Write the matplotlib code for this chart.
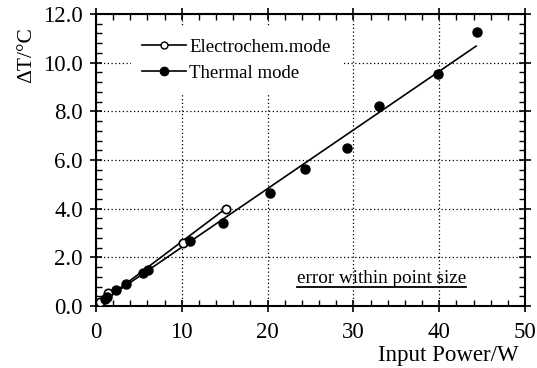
import matplotlib
matplotlib.use('Agg')
import matplotlib.pyplot as plt
from matplotlib.ticker import MultipleLocator, FormatStrFormatter
from matplotlib.lines import Line2D

# Dados
elec_x = [0.47, 1.44, 10.1, 15.1]
elec_y = [0.18, 0.52, 2.58, 3.99]

therm_x = [1.0, 1.24, 2.3, 3.46, 5.5, 6.1, 11.0, 14.77, 20.3, 24.4, 29.3, 33.0, 39.8, 44.4]
therm_y = [0.30, 0.36, 0.66, 0.89, 1.34, 1.48, 2.69, 3.42, 4.66, 5.63, 6.51, 8.22, 9.54, 11.27]

# retas ajustadas (extremos)
elec_fit_x = [0.4, 15.1]
elec_fit_y = [0.10, 4.00]
therm_fit_x = [0.4, 44.3]
therm_fit_y = [0.10, 10.68]

plt.rcParams['font.family'] = ['Liberation Serif', 'DejaVu Serif']

fig = plt.figure(figsize=(5.37, 3.68), dpi=100)
ax = fig.add_axes([0.1788, 0.1685, 0.7989, 0.7935])

ax.plot(elec_fit_x, elec_fit_y, color='black', lw=1.2, zorder=3)
ax.plot(therm_fit_x, therm_fit_y, color='black', lw=1.2, zorder=3)
ax.plot(elec_x, elec_y, 'o', mfc='white', mec='black', mew=1.2, ms=6, zorder=4)
ax.plot(therm_x, therm_y, 'o', color='black', ms=6.5, zorder=4)

ax.set_xlim(0, 50)
ax.set_ylim(0, 12)
ax.xaxis.set_major_locator(MultipleLocator(10))
ax.xaxis.set_minor_locator(MultipleLocator(2))
ax.yaxis.set_major_locator(MultipleLocator(2))
ax.yaxis.set_minor_locator(MultipleLocator(0.4))
ax.yaxis.set_major_formatter(FormatStrFormatter('%.1f'))

ax.grid(which='major', linestyle=(0, (1, 2)), color='black', lw=0.9, zorder=0)
ax.tick_params(which='major', direction='inout', length=9, width=1.2,
               top=True, right=True, labelsize=16.5)
ax.tick_params(axis='x', which='major', pad=7)
ax.tick_params(axis='y', which='major', pad=5)
ax.tick_params(which='minor', direction='in', length=4, width=1,
               top=True, right=True)
for sp in ax.spines.values():
    sp.set_linewidth(1.5)

ax.set_ylabel('ΔT/°C', fontsize=15.5)
ax.yaxis.set_label_coords(-0.14, 0.861)
ax.set_xlabel('Input Power/W', fontsize=16.5)
ax.xaxis.set_label_coords(0.984, -0.168)
ax.xaxis.label.set_horizontalalignment('right')
ax.xaxis.label.set_verticalalignment('center')

handles = [
    Line2D([], [], color='black', lw=1.2, marker='o', mfc='white', mec='black', ms=5),
    Line2D([], [], color='black', lw=1.2, marker='o', ms=6),
]
leg = ax.legend(handles, ['Electrochem.mode', 'Thermal mode'],
                loc='upper left', bbox_to_anchor=(0.06, 0.987), frameon=True,
                fontsize=13.5, handlelength=2.3, handletextpad=0.2,
                labelspacing=0.5, borderpad=0.6, numpoints=1)
leg.get_frame().set_edgecolor('none')
leg.get_frame().set_facecolor('white')
leg.get_frame().set_alpha(1)
leg.set_zorder(5)

txt = ax.text(23.4, 0.95, 'error within point size', fontsize=13.8,
              ha='left', va='baseline', zorder=5)

# sublinhado do texto
fig.canvas.draw()
bb = txt.get_window_extent().transformed(ax.transData.inverted())
ax.plot([bb.x0, bb.x1], [0.8, 0.8], color='black', lw=1.3, zorder=5)

fig.savefig('out.png', dpi=100, facecolor='white')
